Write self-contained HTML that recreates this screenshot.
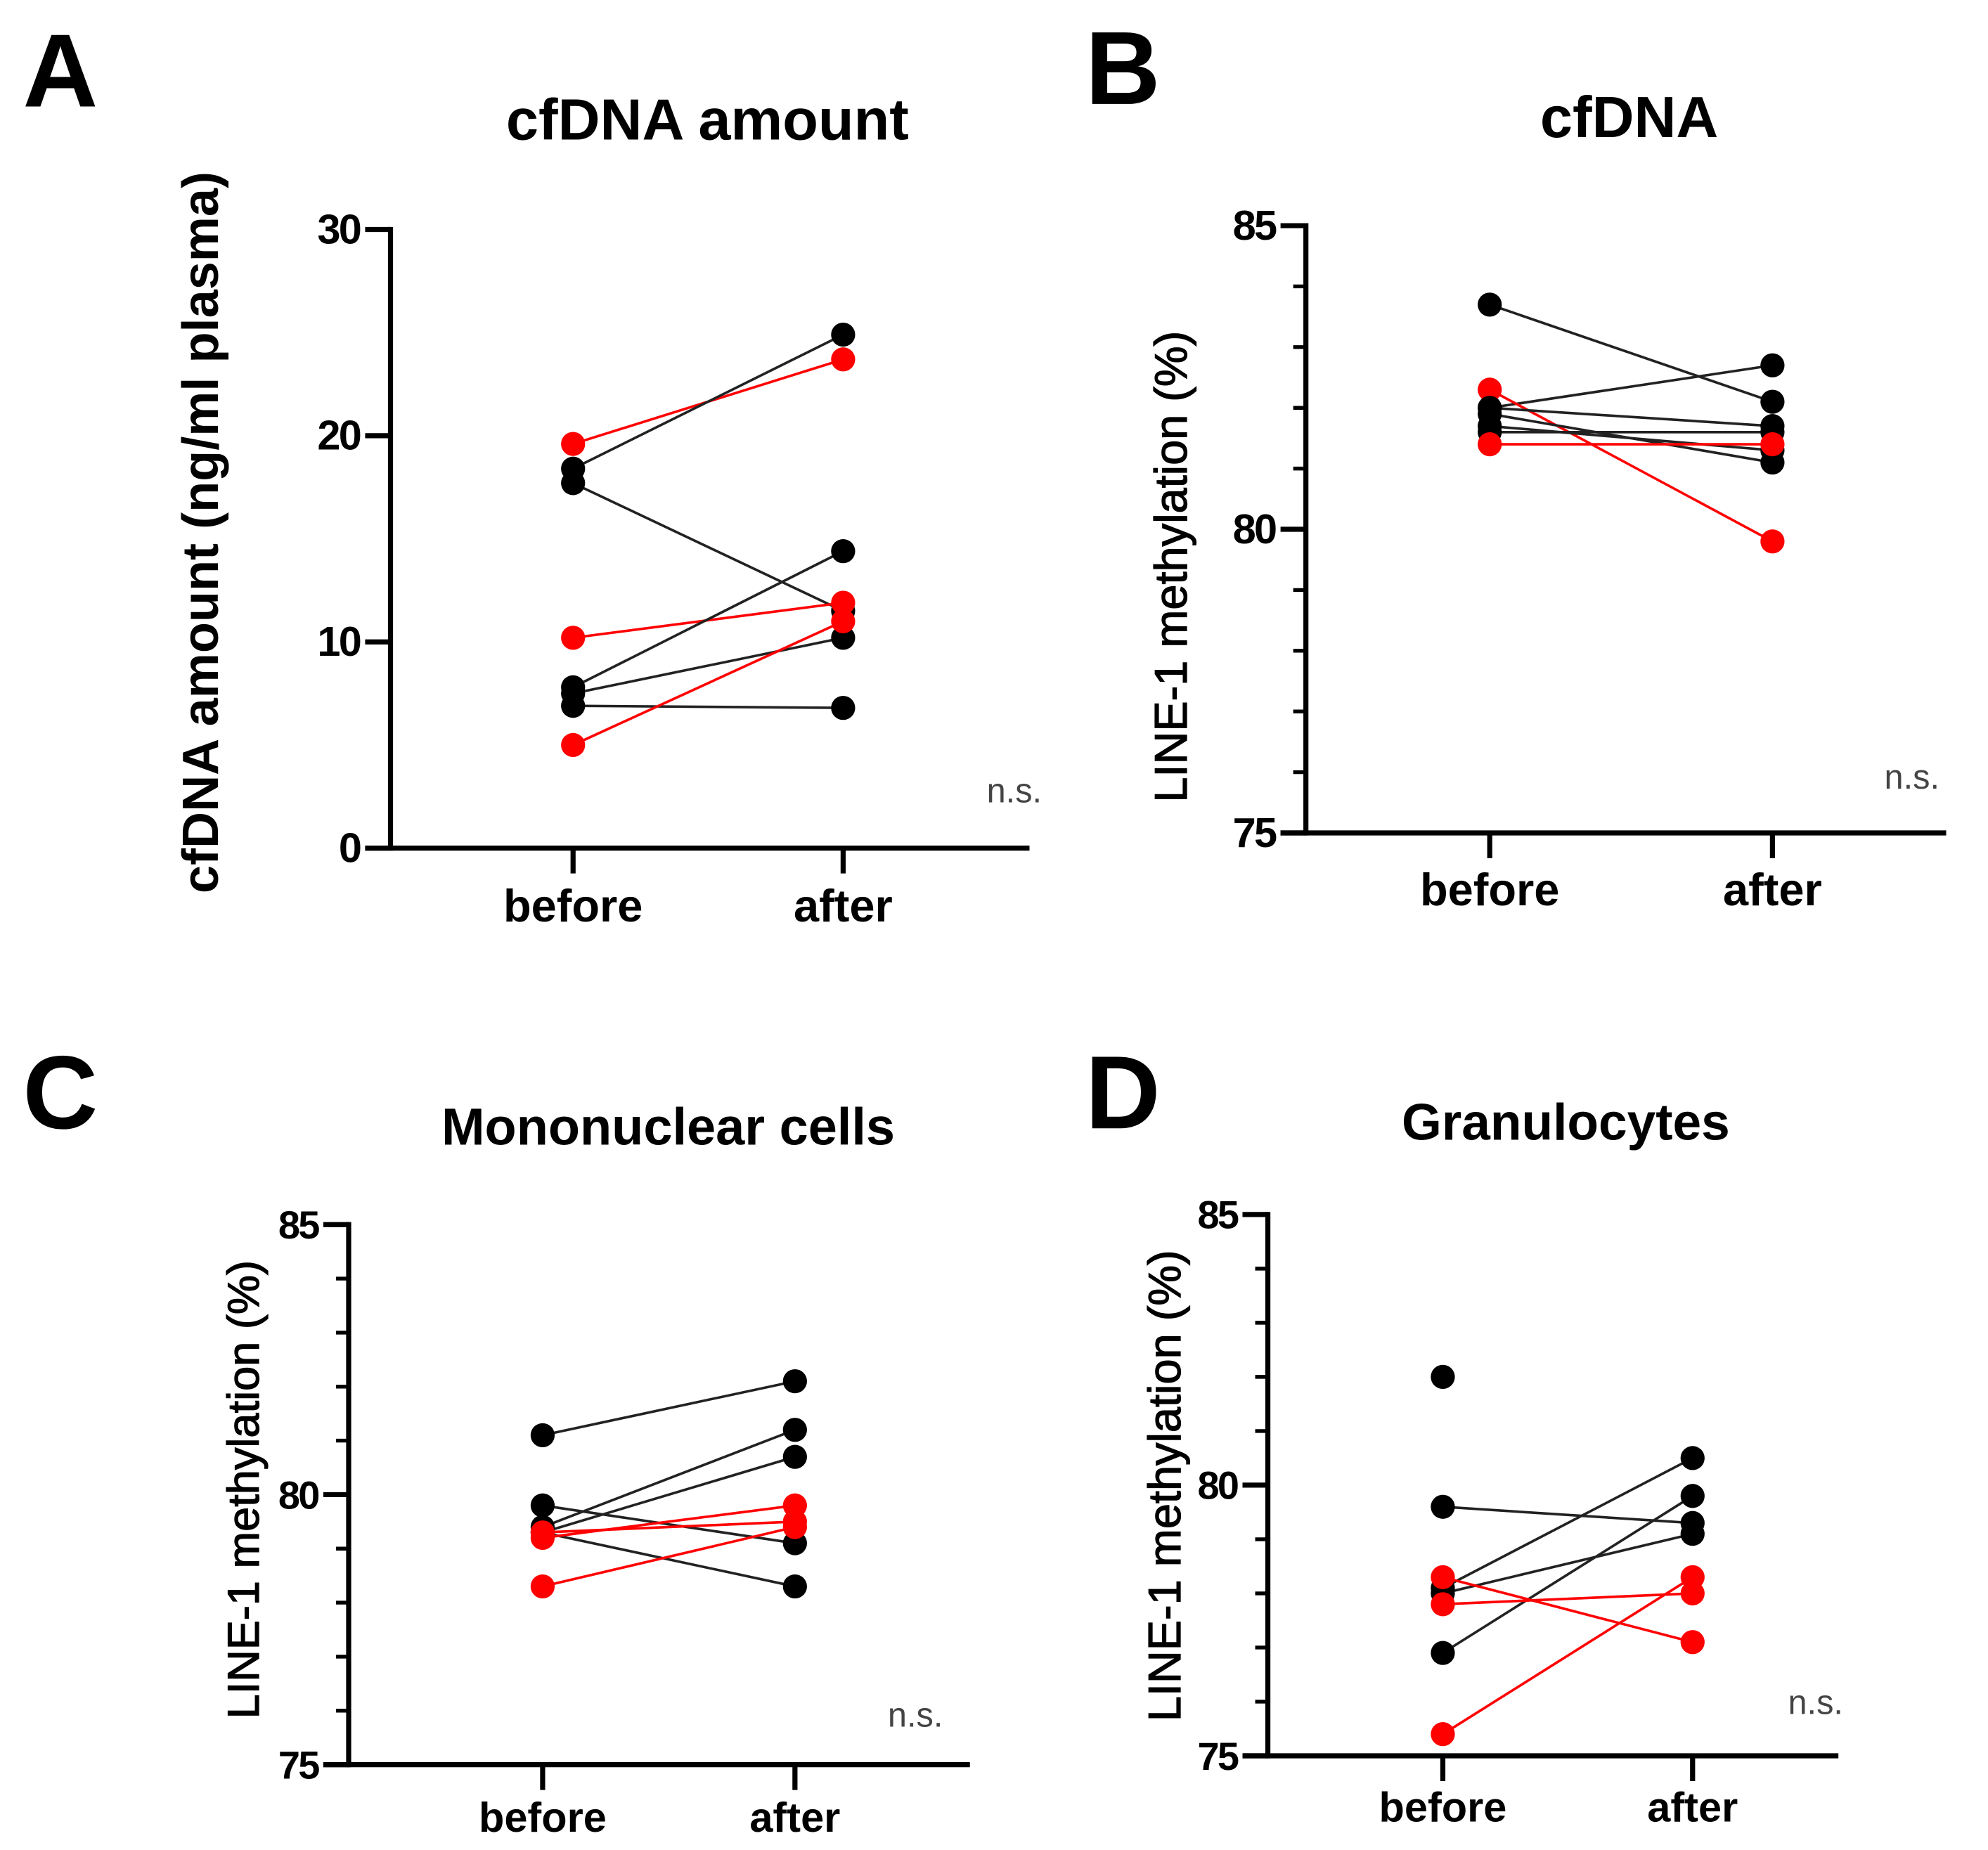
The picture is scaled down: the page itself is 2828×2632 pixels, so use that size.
<!DOCTYPE html>
<html><head><meta charset="utf-8"><style>
html,body{margin:0;padding:0;background:#fff}
svg{display:block}
text{font-family:"Liberation Sans",Arial,sans-serif}
</style></head><body>
<svg id="fig" xmlns="http://www.w3.org/2000/svg" width="2828" height="2632" viewBox="0 0 1568 1459.3">
<rect width="1568" height="1459.3" fill="#fff"/>
</svg>
<script>
// Panel A data
const aTicks = ["0","10","20","30"];
const aBefore = [19.6, 18.4, 17.7, 10.2, 7.8, 7.5, 6.9, 5.0];
const aAfter  = [23.7, 24.9, 11.5, 11.9, 14.4, 10.2, 6.8, 11.0];
const aRed    = [1,0,0,1,0,0,0,1];
// Panel B data
const bTicks = ["75","80","85"];
const bBefore = [83.7, 82.0, 82.3, 82.0, 81.9, 81.6, 81.7, 81.4];
const bAfter  = [82.1, 82.7, 79.8, 81.7, 81.1, 81.6, 81.3, 81.4];
const bRed    = [0,0,1,0,0,0,0,1];
// Panel C data
const cTicks = ["75","80","85"];
const cBefore = [81.1, 79.3, 79.4, 79.8, 79.3, 79.2, 79.3, 78.3];
const cAfter  = [82.1, 80.7, 81.2, 79.1, 78.3, 79.8, 79.5, 79.4];
const cRed    = [0,0,0,0,0,1,1,1];
// Panel D data
const dTicks = ["75","80","85"];
const dBefore = [82.0, 79.6, 78.1, 78.0, 76.9, 78.3, 77.8, 75.4];
const dAfter  = [null, 79.3, 80.5, 79.1, 79.8, 77.1, 78.0, 78.3];
const dRed    = [0,0,0,0,0,1,1,1];
const groups = ["before","after"];

const NS="http://www.w3.org/2000/svg";
const svg=document.getElementById('fig');
function el(tag,attrs,parent,txt){const e=document.createElementNS(NS,tag);for(const k in attrs)e.setAttribute(k,attrs[k]);if(txt!==undefined)e.textContent=txt;(parent||svg).appendChild(e);return e;}

function panel(o){
  const g=el('g',{});
  
  
  const y=v=>o.y0+(v-o.vmin)/(o.vmax-o.vmin)*(o.y1-o.y0);
  const xs=[o.xb,o.xa];
  const L=el('text',{x:o.lx,y:o.ly,'font-size':o.lsize,'font-weight':'bold'},g,o.letter);
  
  
  const T=el('text',{x:o.tx,y:o.ty,'font-size':o.tsize,'font-weight':'bold','text-anchor':'middle'},g,o.title);
  
  
  const ya=el('line',{x1:o.ax,y1:o.y1-2,x2:o.ax,y2:o.y0+2,stroke:'#000','stroke-width':4},g);
  
  
  const xa=el('line',{x1:o.xl,y1:o.y0,x2:o.xr,y2:o.y0,stroke:'#000','stroke-width':4},g);
  
  
  o.ticks.forEach(t=>{
    const v=parseFloat(t), yy=y(v);
    el('line',{x1:o.ax-20,y1:yy,x2:o.ax,y2:yy,stroke:'#000','stroke-width':4},g);
    const tl=el('text',{x:o.ax-24,y:yy+11,'font-size':o.ksize,'font-weight':'bold','text-anchor':'end','letter-spacing':-1.5},g,t);
    
    
  });
  if(o.minor){for(let v=o.vmin+1;v<o.vmax;v++){if(v%5===0)continue;el('line',{x1:o.ax-10,y1:y(v),x2:o.ax,y2:y(v),stroke:'#000','stroke-width':3},g);}}
  xs.forEach((x,i)=>{
    el('line',{x1:x,y1:o.y0,x2:x,y2:o.y0+20,stroke:'#000','stroke-width':4},g);
    const xl=el('text',{x:x,y:o.y0+o.xoff,'font-size':o.xsize,'font-weight':'bold','text-anchor':'middle'},g,groups[i]);
    
    
  });
  const yt=el('text',{x:0,y:0,'font-size':o.ysize,'font-weight':o.ybold?'bold':'normal','text-anchor':'middle',transform:`translate(${o.ylx},${o.yly}) rotate(-90)`},g,o.ylabel);
  if(!o.ybold){yt.setAttribute('stroke','#000');yt.setAttribute('stroke-width','0.7');}
  
  
  const ns=el('text',{x:o.nsx,y:o.nsy,'font-size':27,fill:'#444','text-anchor':'middle'},g,'n.s.');
  
  
  o.before.forEach((b,i)=>{
    const a=o.after[i]; const c=o.red[i]?'#f00':'#222';
    if(b!=null&&a!=null){
      const ln=el('line',{x1:xs[0],y1:y(b),x2:xs[1],y2:y(a),stroke:c,'stroke-width':2},g);
      
      
    }
  });
  o.before.forEach((b,i)=>{
    const a=o.after[i]; const c=o.red[i]?'#f00':'#000';
    [[b,0],[a,1]].forEach(([v,k])=>{ if(v==null)return;
      const p=el('circle',{cx:xs[k],cy:y(v),r:9.5,fill:c},g);
      
      
    });
  });
}
panel({id:'a',letter:'A',lx:18,ly:84,lsize:82,title:'cfDNA amount',tx:558,ty:110,tsize:46,
  ax:308,y0:669,y1:181,vmin:0,vmax:30,xl:288,xr:812,xb:452,xa:665,ticks:aTicks,minor:false,ksize:33,
  xsize:36,xoff:58,ylabel:'cfDNA amount (ng/ml plasma)',ylx:172,yly:420,ysize:40,ybold:true,nsx:800,nsy:633,
  before:aBefore,after:aAfter,red:aRed});
panel({id:'b',letter:'B',lx:856,ly:82,lsize:82,title:'cfDNA',tx:1285,ty:108,tsize:46,
  ax:1030,y0:657,y1:178,vmin:75,vmax:85,xl:1010,xr:1535,xb:1175,xa:1398,ticks:bTicks,minor:true,ksize:33,
  xsize:36,xoff:57,ylabel:'LINE-1 methylation (%)',ylx:936,yly:447,ysize:36,ybold:false,nsx:1508,nsy:622,
  before:bBefore,after:bAfter,red:bRed});
panel({id:'c',letter:'C',lx:18,ly:890,lsize:82,title:'Mononuclear cells',tx:527,ty:903,tsize:41,
  ax:275,y0:1392,y1:966,vmin:75,vmax:85,xl:255,xr:765,xb:428,xa:627,ticks:cTicks,minor:true,ksize:31,
  xsize:33,xoff:53,ylabel:'LINE-1 methylation (%)',ylx:204,yly:1175,ysize:35,ybold:false,nsx:722,nsy:1362,
  before:cBefore,after:cAfter,red:cRed});
panel({id:'d',letter:'D',lx:856,ly:890,lsize:82,title:'Granulocytes',tx:1235,ty:899,tsize:40.5,
  ax:1000,y0:1385,y1:958,vmin:75,vmax:85,xl:980,xr:1450,xb:1138,xa:1335,ticks:dTicks,minor:true,ksize:31,
  xsize:33,xoff:52,ylabel:'LINE-1 methylation (%)',ylx:931,yly:1172,ysize:36,ybold:false,nsx:1432,nsy:1352,
  before:dBefore,after:dAfter,red:dRed});
</script>
</body></html>
